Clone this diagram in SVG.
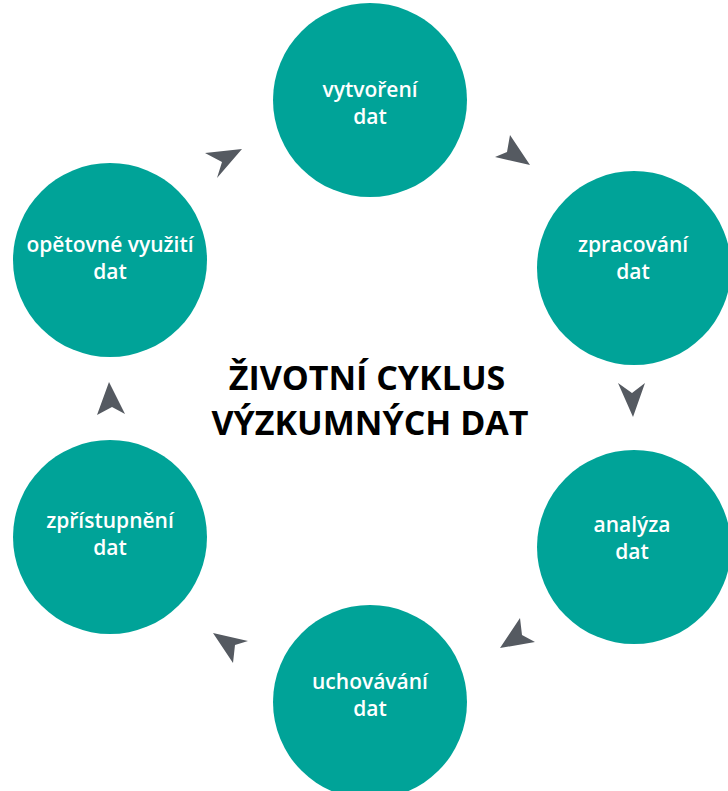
<svg xmlns="http://www.w3.org/2000/svg" width="728" height="791" viewBox="0 0 728 791">
<style>
.node{fill:#00A398}
.lbl{fill:#fff;font-family:"Open Sans","Noto Sans",sans-serif;font-weight:600;font-size:21px;text-anchor:middle}
.arr{fill:#555A61}
.title{fill:#000;font-family:"Open Sans","Noto Sans",sans-serif;font-weight:700;font-size:34px;text-anchor:middle}
</style>
<rect width="728" height="791" fill="#fff"/>
<g id="n1"><circle class="node" cx="370" cy="100" r="97"/><text class="lbl" x="370" y="97">vytvoření</text><text class="lbl" x="370" y="124">dat</text></g>
<g id="n2"><circle class="node" cx="634" cy="268" r="97"/><text class="lbl" x="633" y="252">zpracování</text><text class="lbl" x="633" y="279">dat</text></g>
<g id="n3"><circle class="node" cx="634" cy="547" r="97"/><text class="lbl" x="632" y="532">analýza</text><text class="lbl" x="632" y="559">dat</text></g>
<g id="n4"><circle class="node" cx="370" cy="702" r="97"/><text class="lbl" x="370" y="689">uchovávání</text><text class="lbl" x="370" y="716">dat</text></g>
<g id="n5"><circle class="node" cx="110" cy="537" r="97"/><text class="lbl" x="110" y="528">zpřístupnění</text><text class="lbl" x="110" y="555">dat</text></g>
<g id="n6"><circle class="node" cx="110" cy="260" r="97"/><text class="lbl" x="110" y="252">opětovné využití</text><text class="lbl" x="110" y="279">dat</text></g>
<g id="title"><text class="title" x="367" y="390">ŽIVOTNÍ CYKLUS</text><text class="title" x="370" y="435">VÝZKUMNÝCH DAT</text></g>
<g id="connectors">
<polygon class="arr" points="530,165 510,135 507,152 495,157"/>
<polygon class="arr" points="633,417 645,383 632,393 618,383"/>
<polygon class="arr" points="500,648 520,618 522,635 535,642"/>
<polygon class="arr" points="213,633 248,641 235,645 233,663"/>
<polygon class="arr" points="109,382 125,414 112,407 97,415"/>
<polygon class="arr" points="242,149 205,153 222,162 217,178"/>
</g>
</svg>
